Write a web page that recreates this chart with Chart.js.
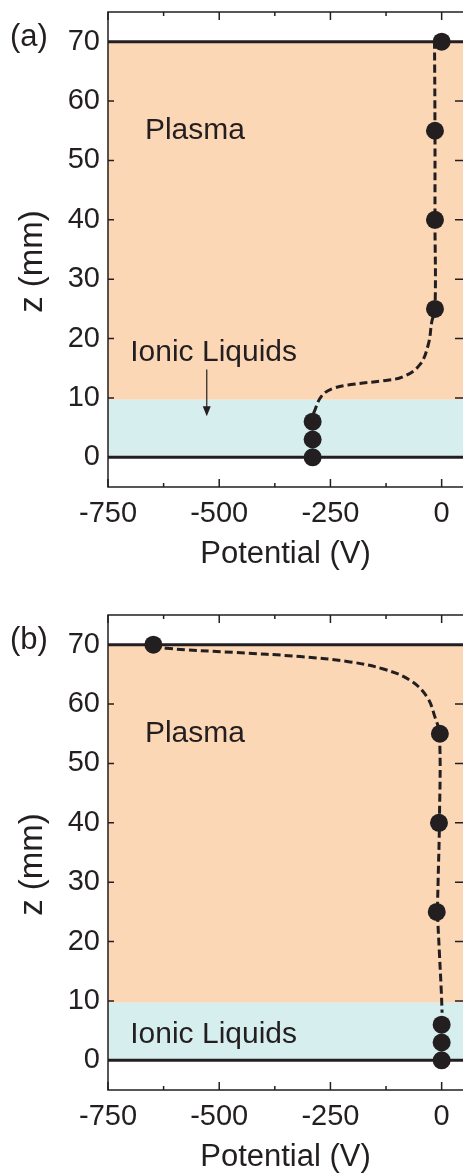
<!DOCTYPE html>
<html>
<head>
<meta charset="utf-8">
<script src="https://cdn.jsdelivr.net/npm/chart.js@4.4.1/dist/chart.umd.min.js"></script>
<style>
  html, body { margin: 0; padding: 0; background: #fff; }
  canvas { display: block; }
</style>
</head>
<body>
<canvas id="ca" width="463" height="590"></canvas>
<canvas id="cb" width="463" height="586"></canvas>
<script>
// axis ticks
const xTicksMajor = [-750, -500, -250, 0];
const xTicksMinor = [-625, -375, -125];
const yTicksMajor = [0, 10, 20, 30, 40, 50, 60, 70];

// layer boundaries (z, mm)
const plasmaRange = [9.7, 70];
const liquidRange = [0, 9.7];
const electrodeLines = [0, 70];

// (a) measured points
const aPotential = [0, -15, -15, -15, -290, -290, -290];
const aHeight = [70, 55, 40, 25, 6, 3, 0];
// (a) dashed guide curve
const aCurveV = [-288, -270, -244, -199, -131, -86, -49, -30, -22, -15, -15, -15, -16];
const aCurveZ = [7.4, 10.3, 11.6, 12.3, 12.9, 13.6, 15.6, 19, 22.9, 25, 40, 55, 70];

// (b) measured points
const bPotential = [-648, -4, -6, -11, 0, 0, 0];
const bHeight = [70, 55, 40, 25, 6, 3, 0];
// (b) dashed guide curve
const bCurveV = [-648, -618, -468, -318, -206, -131, -71, -33, -15, -5, -5, -8, -9, -5, -1, 1];
const bCurveZ = [70, 69.4, 68.7, 68, 67.1, 65.9, 64, 61.2, 57.8, 55, 40, 30, 25, 18, 12, 8];

const INK = "#231f20";
const PEACH = "#fbd7b5";
const AQUA = "#d6eeee";
const FONT = "'Liberation Sans', Arial, Helvetica, sans-serif";

function pts(xs, ys) { return xs.map((v, i) => ({ x: v, y: ys[i] })); }

const panelPlugin = {
  id: "panel",
  beforeDatasetsDraw(chart) {
    const { ctx, chartArea: a, scales: { x, y } } = chart;
    ctx.save();
    ctx.beginPath(); ctx.rect(a.left, a.top, a.right - a.left, a.bottom - a.top); ctx.clip();
    [[plasmaRange, PEACH], [liquidRange, AQUA]].forEach(([r, c]) => {
      const y1 = y.getPixelForValue(r[1]), y0 = y.getPixelForValue(r[0]);
      ctx.fillStyle = c;
      ctx.fillRect(a.left, y1, a.right - a.left, y0 - y1);
    });
    ctx.strokeStyle = INK; ctx.lineWidth = 3;
    electrodeLines.forEach(v => {
      const py = y.getPixelForValue(v);
      ctx.beginPath(); ctx.moveTo(a.left, py); ctx.lineTo(a.right, py); ctx.stroke();
    });
    ctx.restore();
  },
  afterDraw(chart, args, o) {
    const { ctx, chartArea: a, scales: { x, y } } = chart;
    ctx.save();
    ctx.strokeStyle = INK; ctx.lineWidth = 1.5;
    // frame: left, top, bottom (right edge is cut off)
    ctx.beginPath();
    ctx.moveTo(a.right, a.top); ctx.lineTo(a.left, a.top); ctx.lineTo(a.left, a.bottom); ctx.lineTo(a.right, a.bottom);
    ctx.stroke();
    // inward ticks
    ctx.beginPath();
    xTicksMajor.forEach(v => {
      const px = x.getPixelForValue(v);
      ctx.moveTo(px, a.top); ctx.lineTo(px, a.top + 8);
      ctx.moveTo(px, a.bottom); ctx.lineTo(px, a.bottom - 8);
    });
    xTicksMinor.forEach(v => {
      const px = x.getPixelForValue(v);
      ctx.moveTo(px, a.top); ctx.lineTo(px, a.top + 4);
      ctx.moveTo(px, a.bottom); ctx.lineTo(px, a.bottom - 4);
    });
    yTicksMajor.forEach(v => {
      const py = y.getPixelForValue(v);
      ctx.moveTo(a.left, py); ctx.lineTo(a.left + 6, py);
      ctx.moveTo(a.right, py); ctx.lineTo(a.right - 8, py);
    });
    ctx.stroke();

    // labels
    ctx.fillStyle = INK;
    ctx.font = "30px " + FONT;
    ctx.textAlign = "left"; ctx.textBaseline = "alphabetic";
    ctx.fillText("Plasma", x.getPixelForValue(o.plasmaAt[0]), y.getPixelForValue(o.plasmaAt[1]));
    ctx.fillText("Ionic Liquids", x.getPixelForValue(o.ionicAt[0]), y.getPixelForValue(o.ionicAt[1]));
    ctx.textBaseline = "middle";
    ctx.font = "31px " + FONT;
    ctx.fillText(o.tag, a.left - 98, y.getPixelForValue(70) - 4);

    // y axis title
    ctx.save();
    ctx.font = "33px " + FONT;
    ctx.textAlign = "center"; ctx.textBaseline = "middle";
    ctx.translate(a.left - 75, (a.top + a.bottom) / 2 + 12);
    ctx.rotate(-Math.PI / 2);
    ctx.fillText("z (mm)", 0, 0);
    ctx.restore();

    if (o.arrow) {
      const ax = x.getPixelForValue(o.arrow[0]);
      const ay0 = y.getPixelForValue(o.arrow[1]), ay1 = y.getPixelForValue(o.arrow[2]);
      ctx.lineWidth = 1.2;
      ctx.beginPath(); ctx.moveTo(ax, ay0); ctx.lineTo(ax, ay1 - 8); ctx.stroke();
      ctx.beginPath(); ctx.moveTo(ax - 4, ay1 - 10); ctx.lineTo(ax + 4, ay1 - 10); ctx.lineTo(ax, ay1); ctx.closePath(); ctx.fill();
    }
    ctx.restore();
  }
};

function makePanel(id, p) {
  return new Chart(document.getElementById(id), {
    type: "scatter",
    data: {
      datasets: [
        {
          data: pts(p.dotsV, p.dotsZ),
          pointRadius: 9, pointHoverRadius: 9,
          pointBackgroundColor: INK, pointBorderColor: INK, pointBorderWidth: 0,
          showLine: false, clip: false
        },
        {
          data: pts(p.curveV, p.curveZ),
          showLine: true, pointRadius: 0, borderColor: INK, borderWidth: 3,
          borderDash: [8, 4], tension: 0.4, fill: false, clip: false
        }
      ]
    },
    options: {
      responsive: false, animation: false, events: [],
      layout: { autoPadding: false, padding: { top: p.padTop, left: 0, right: 0, bottom: 0 } },
      plugins: {
        legend: { display: false }, tooltip: { enabled: false },
        panel: { tag: p.tag, plasmaAt: p.plasmaAt, ionicAt: p.ionicAt, arrow: p.arrow }
      },
      scales: {
        x: {
          type: "linear", min: -750, max: 48,
          grid: { display: false, drawTicks: false }, border: { display: false },
          afterBuildTicks: s => { s.ticks = xTicksMajor.map(v => ({ value: v })); },
          afterFit: s => { s.height = p.axisH; s.paddingLeft = 0; s.paddingRight = 0; },
          ticks: { color: INK, font: { family: FONT, size: 29 }, padding: 10, maxRotation: 0 },
          title: { display: true, text: "Potential (V)", color: INK, font: { family: FONT, size: 31 }, padding: { top: 0, bottom: p.titlePad } }
        },
        y: {
          type: "linear", min: -5, max: 75,
          grid: { display: false, drawTicks: false }, border: { display: false },
          afterBuildTicks: s => { s.ticks = yTicksMajor.map(v => ({ value: v })); },
          afterFit: s => { s.width = 108; s.paddingTop = 0; s.paddingBottom = 0; },
          ticks: { color: INK, font: { family: FONT, size: 29 }, padding: 8 },
          title: { display: false }
        }
      }
    },
    plugins: [panelPlugin]
  });
}

makePanel("ca", {
  tag: "(a)", dotsV: aPotential, dotsZ: aHeight, curveV: aCurveV, curveZ: aCurveZ,
  plasmaAt: [-667, 53.6], ionicAt: [-700, 16.2], arrow: [-528, 14.8, 6.9],
  padTop: 12, axisH: 103, titlePad: 17
});
makePanel("cb", {
  tag: "(b)", dotsV: bPotential, dotsZ: bHeight, curveV: bCurveV, curveZ: bCurveZ,
  plasmaAt: [-667, 53.6], ionicAt: [-700, 2.9], arrow: null,
  padTop: 25, axisH: 86, titlePad: 0
});
</script>
</body>
</html>
